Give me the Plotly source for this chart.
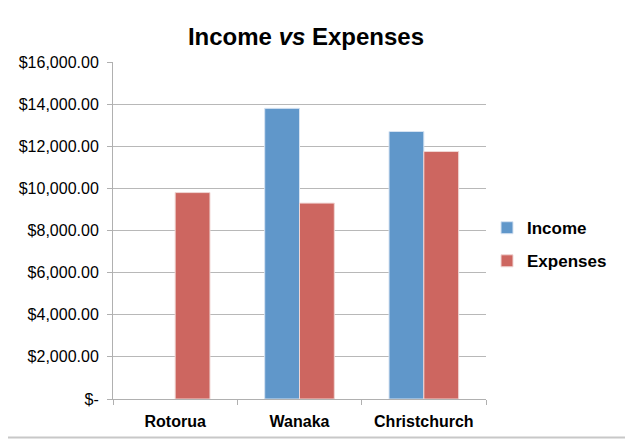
import plotly.graph_objects as go

towns = ['Rotorua', 'Wanaka', 'Christchurch']
income = [None, 13800, 12700]
expenses = [9800, 9300, 11750]

ytick_vals = [0, 2000, 4000, 6000, 8000, 10000, 12000, 14000, 16000]
ytick_text = ['$-', '$2,000.00', '$4,000.00', '$6,000.00', '$8,000.00',
              '$10,000.00', '$12,000.00', '$14,000.00', '$16,000.00']

# page has an 8px body margin, so work in figure coordinates shifted by 8
off = 8
W, H = 633 - off, 439 - off
ml, mt = 113 - off, 62 - off
pw, ph = 373, 337.5
mr, mb = W - ml - pw, H - mt - ph

fig = go.Figure()
fig.add_trace(go.Bar(x=towns, y=income, name='<b>Income</b>', legendgroup='a',
                     marker=dict(color='#6097CA', line=dict(color='#d6e3f2', width=1))))
fig.add_trace(go.Bar(x=towns, y=expenses, name='<b>Expenses</b>', legendgroup='b',
                     marker=dict(color='#CD6660', line=dict(color='#f0d6d4', width=1))))

fig.update_layout(
    width=W, height=H,
    margin=dict(l=ml, r=mr, t=mt, b=mb, autoexpand=False),
    paper_bgcolor='white', plot_bgcolor='white',
    font=dict(family='Liberation Sans, Arial, sans-serif', color='black'),
    title=dict(text='<b>Income <i>vs</i> Expenses</b>', x=(306 - off - ml) / pw, xref='paper',
               xanchor='center', y=1 - (37 - off) / H, yanchor='middle', font=dict(size=24)),
    barmode='group', bargap=0.44, bargroupgap=0.0,
    showlegend=True,
    legend=dict(x=(487 - 113) / pw, xanchor='left', y=0.458, yanchor='middle',
                font=dict(size=17), traceorder='grouped', tracegroupgap=8,
                itemwidth=30),
    xaxis=dict(showline=True, linecolor='#b0b0b0', linewidth=1, tickson='boundaries',
               ticks='outside', ticklen=5, tickcolor='#b0b0b0',
               tickvals=towns, ticktext=[f'<b>{t}</b>' for t in towns],
               tickfont=dict(size=16), ticklabelstandoff=8, showgrid=False),
    yaxis=dict(range=[0, 16000], tickvals=ytick_vals, ticktext=ytick_text,
               showline=True, linecolor='#b0b0b0', linewidth=1, ticks='outside',
               ticklen=5, tickcolor='#b0b0b0', showgrid=True, gridcolor='#b8b8b8',
               tickfont=dict(size=16), ticklabelstandoff=5, zeroline=False),
    shapes=[
        dict(type='line', xref='paper', yref='paper', x0=1 + (mr - 2) / pw, x1=1 + (mr - 2) / pw,
             y0=-mb / ph, y1=1 + mt / ph, line=dict(color='#c8c8c8', width=2)),
        dict(type='line', xref='paper', yref='paper', x0=-ml / pw, x1=1 + mr / pw,
             y0=-(mb - 1) / ph, y1=-(mb - 1) / ph, line=dict(color='#c8c8c8', width=2)),
    ],
)

fig.write_html("out.html")
